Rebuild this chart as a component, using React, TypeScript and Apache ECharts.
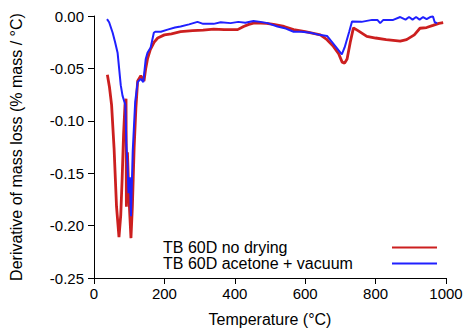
import React, { useEffect, useRef } from "react";
import * as echarts from "echarts";

const redName = "TB 60D no drying";
const blueName = "TB 60D acetone + vacuum";

const redTemp = [38, 44, 50, 57, 64, 71, 76, 80, 84, 88, 91, 92, 95, 98, 101, 105, 109, 114, 119, 124, 133, 142, 147, 152, 160, 171, 181, 200, 220, 246, 280, 310, 340, 370, 408, 425, 440, 453, 473, 490, 510, 540, 567, 600, 643, 660, 680, 695, 705, 712, 719, 728, 737, 750, 775, 800, 830, 870, 888, 910, 926, 945, 963, 980, 992];
const redVal = [-0.056, -0.068, -0.085, -0.126, -0.182, -0.211, -0.19, -0.155, -0.113, -0.085, -0.079, -0.182, -0.13, -0.16, -0.185, -0.212, -0.182, -0.126, -0.088, -0.062, -0.057, -0.062, -0.05, -0.041, -0.032, -0.025, -0.021, -0.018, -0.017, -0.015, -0.014, -0.0135, -0.0125, -0.013, -0.013, -0.01, -0.008, -0.0068, -0.0068, -0.007, -0.008, -0.01, -0.013, -0.015, -0.018, -0.022, -0.029, -0.036, -0.044, -0.045, -0.041, -0.025, -0.0113, -0.014, -0.0194, -0.021, -0.0225, -0.024, -0.0225, -0.018, -0.0117, -0.011, -0.009, -0.007, -0.0063];

const blueTemp = [37, 43, 53, 60, 67, 76, 81, 89, 92, 95, 98, 102, 105, 110, 117, 124, 133, 140, 147, 152, 161, 170, 174, 190, 209, 230, 246, 270, 294, 310, 340, 360, 388, 410, 430, 453, 473, 493, 521, 545, 567, 590, 615, 640, 662, 686, 704, 712, 725, 733, 760, 790, 805, 813, 822, 850, 870, 885, 895, 905, 915, 925, 935, 945, 955, 963, 968, 975];
const blueVal = [-0.003, -0.006, -0.016, -0.025, -0.035, -0.066, -0.076, -0.085, -0.123, -0.14, -0.169, -0.154, -0.191, -0.129, -0.082, -0.063, -0.06, -0.063, -0.041, -0.035, -0.03, -0.016, -0.015, -0.015, -0.013, -0.011, -0.01, -0.008, -0.0056, -0.0075, -0.0075, -0.006, -0.0068, -0.0056, -0.0065, -0.0047, -0.0056, -0.0068, -0.01, -0.012, -0.015, -0.015, -0.016, -0.018, -0.019, -0.029, -0.0366, -0.03, -0.015, -0.0053, -0.0056, -0.0037, -0.0037, -0.0068, -0.0037, -0.0037, -0.001, -0.0035, -0.001, -0.0035, -0.001, -0.0035, -0.001, -0.003, -0.001, -0.0005, -0.006, -0.0068];

const xTicks = [0, 200, 400, 600, 800, 1000];
const yTicks = [0, -0.05, -0.1, -0.15, -0.2, -0.25];

const FONT = "'Liberation Sans', Arial, Helvetica, sans-serif";
const RED = "#cc1f1f";
const BLUE = "#2020ff";

export default function App() {
  const ref = useRef<HTMLDivElement>(null);
  useEffect(() => {
    if (!ref.current) return;
    const chart = echarts.init(ref.current, undefined, { renderer: "svg" });
    const axisCommon = {
      axisLine: { show: true, onZero: false, lineStyle: { color: "#000", width: 1 } },
      axisTick: { show: true, inside: false, length: 6, lineStyle: { color: "#000", width: 1 } },
      splitLine: { show: false },
      nameLocation: "middle" as const,
      nameTextStyle: { fontSize: 16, color: "#000", fontFamily: FONT },
    };
    chart.setOption({
      animation: false,
      backgroundColor: "#fff",
      grid: { left: 93, right: 20, top: 16, bottom: 49, containLabel: false },
      legend: {
        orient: "vertical",
        left: 163,
        top: 239.5,
        padding: 0,
        align: "right",
        itemGap: 0,
        itemWidth: 45,
        itemHeight: 2.2,
        icon: "rect",
        data: [redName, blueName],
        formatter: (n: string) => `{a|${n}}`,
        textStyle: {
          fontSize: 16,
          color: "#000",
          fontFamily: FONT,
          rich: { a: { width: 224, align: "left", fontSize: 16, lineHeight: 16, fontFamily: FONT, color: "#000" } },
        },
      },
      xAxis: {
        ...axisCommon,
        type: "value",
        min: xTicks[0],
        max: xTicks[xTicks.length - 1],
        interval: 200,
        name: "Temperature (°C)",
        nameGap: 33,
        axisLabel: {
          fontSize: 15,
          color: "#000",
          fontFamily: FONT,
          margin: 8,
          showMaxLabel: true,
          showMinLabel: true,
          formatter: (v: number) => String(v),
        },
      },
      yAxis: {
        ...axisCommon,
        type: "value",
        min: yTicks[yTicks.length - 1],
        max: yTicks[0],
        interval: 0.05,
        name: "Derivative of mass loss (% mass / °C)",
        nameGap: 70,
        axisLabel: {
          fontSize: 15,
          color: "#000",
          fontFamily: FONT,
          margin: 10,
          formatter: (v: number) => v.toFixed(2),
        },
      },
      series: [
        {
          name: redName,
          type: "line",
          showSymbol: false,
          symbol: "none",
          data: redTemp.map((t, i) => [t, redVal[i]]),
          lineStyle: { color: RED, width: 2.8 },
          itemStyle: { color: RED },
          z: 2,
        },
        {
          name: blueName,
          type: "line",
          showSymbol: false,
          symbol: "none",
          data: blueTemp.map((t, i) => [t, blueVal[i]]),
          lineStyle: { color: BLUE, width: 2 },
          itemStyle: { color: BLUE },
          z: 3,
        },
      ],
    });
    return () => chart.dispose();
  }, []);
  return (
    <div
      ref={ref}
      style={{ position: "fixed", left: 0, top: 0, width: 466, height: 332, background: "#fff" }}
    />
  );
}
